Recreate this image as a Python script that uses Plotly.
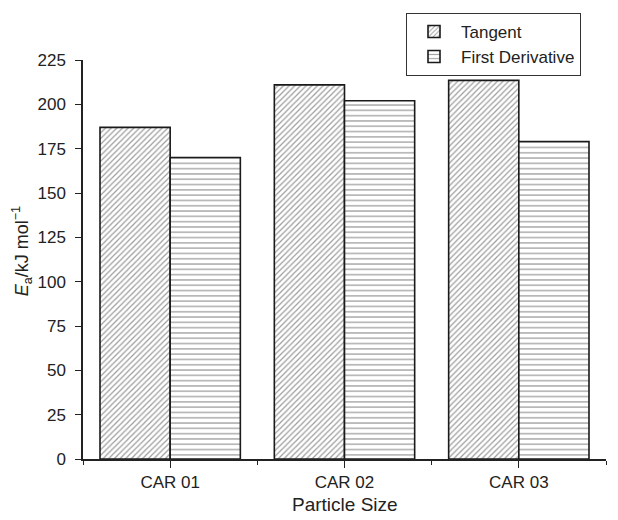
import plotly.graph_objects as go

categories = ["CAR 01", "CAR 02", "CAR 03"]
tangent = [187, 211, 213.5]
first_derivative = [170, 202, 179]
y_ticks = [0, 25, 50, 75, 100, 125, 150, 175, 200, 225]

x_pos = list(range(len(categories)))
FONT = "Liberation Sans, Arial, sans-serif"
INK = "#222222"

fig = go.Figure()
fig.add_trace(go.Bar(
    x=x_pos, y=tangent, name="Tangent",
    marker=dict(
        color="white",
        line=dict(color="#1a1a1a", width=1.6),
        pattern=dict(shape="/", size=4, solidity=0.3,
                     fgcolor="#3a3a3a", bgcolor="white"),
    ),
))
fig.add_trace(go.Bar(
    x=x_pos, y=first_derivative, name="First Derivative",
    marker=dict(
        color="white",
        line=dict(color="#1a1a1a", width=1.6),
        pattern=dict(shape="-", size=5.3, solidity=0.25,
                     fgcolor="#444444", bgcolor="white"),
    ),
))

# axis titles placed as annotations for precise positioning
fig.add_annotation(
    text="Particle Size", xref="paper", yref="paper",
    x=0.5, y=-0.115, xanchor="center", yanchor="middle",
    showarrow=False, font=dict(size=19, color=INK),
)
fig.add_annotation(
    text="<i>E</i><sub>a</sub>/kJ mol<sup>\u22121</sup>", xref="paper", yref="paper",
    x=-0.117, y=0.52, xanchor="center", yanchor="middle", textangle=-90,
    showarrow=False, font=dict(size=18, color=INK),
)

fig.update_layout(
    width=618, height=520,
    margin=dict(l=83, r=12, t=60, b=61),
    paper_bgcolor="white", plot_bgcolor="white",
    barmode="group", bargap=0.195, bargroupgap=0,
    font=dict(family=FONT, size=17, color=INK),
    showlegend=True,
    legend=dict(
        x=0.6176, y=1.118, xanchor="left", yanchor="top",
        bordercolor="#333333", borderwidth=1, bgcolor="white",
        font=dict(size=17, color=INK),
        tracegroupgap=0, itemwidth=44,
    ),
    xaxis=dict(
        range=[-0.5, 2.5], automargin=False,
        tickmode="array", tickvals=x_pos, ticktext=categories,
        ticks="outside", ticklen=7, tickwidth=1.2, tickcolor=INK,
        minor=dict(tick0=0.5, dtick=1, ticks="outside", ticklen=4,
                   tickwidth=1.2, tickcolor=INK),
        showline=True, linecolor=INK, linewidth=1.5,
        showgrid=False, zeroline=False,
        tickfont=dict(size=17),
    ),
    yaxis=dict(
        range=[0, 225], automargin=False,
        tickmode="array", tickvals=y_ticks,
        ticks="outside", ticklen=6, tickwidth=1.2, tickcolor=INK,
        ticklabelstandoff=6,
        showline=True, linecolor=INK, linewidth=1.5,
        showgrid=False, zeroline=False,
        tickfont=dict(size=17),
    ),
)

fig.write_html("out.html")
